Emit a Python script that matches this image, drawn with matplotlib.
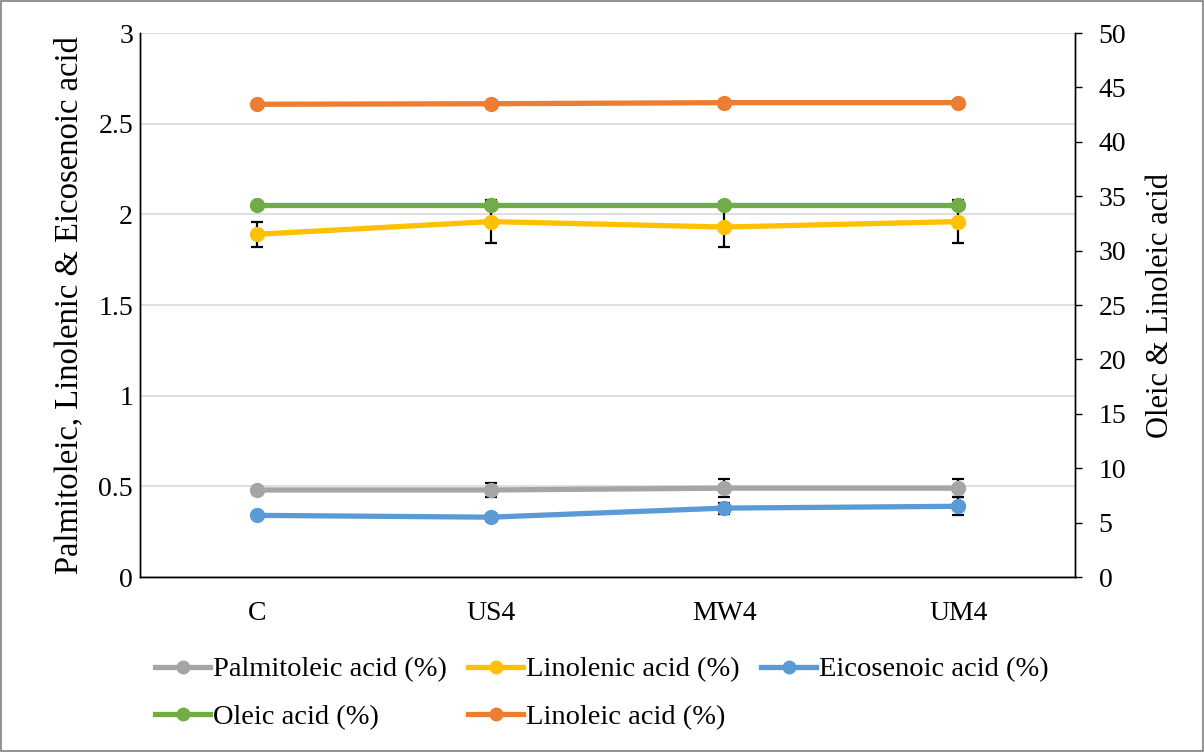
import matplotlib
matplotlib.use("Agg")
import matplotlib.pyplot as plt
from matplotlib.lines import Line2D
from matplotlib.patches import Rectangle

plt.rcParams['font.family'] = ['Liberation Serif', 'DejaVu Serif']

# treatments
groups = ["C", "US4", "MW4", "UM4"]

# primary axis series (%)
palmitoleic = [0.48, 0.48, 0.49, 0.49]
palmitoleic_err = [0.0, 0.04, 0.05, 0.05]
linolenic = [1.89, 1.96, 1.93, 1.96]
linolenic_err = [0.07, 0.12, 0.11, 0.12]
eicosenoic = [0.34, 0.33, 0.38, 0.39]
eicosenoic_err = [0.0, 0.02, 0.03, 0.05]

# secondary axis series (%)
oleic = [34.2, 34.2, 34.2, 34.2]
oleic_err = [0.0, 0.3, 0.3, 0.3]
linoleic = [43.45, 43.5, 43.6, 43.6]
linoleic_err = [0.0, 0.0, 0.0, 0.0]

left_ticks = [0, 0.5, 1, 1.5, 2, 2.5, 3]
right_ticks = list(range(0, 55, 5))

fig = plt.figure(figsize=(12.04, 7.52), dpi=100)
ax = fig.add_axes([0.1163, 0.2327, 0.7766, 0.7234])
ax2 = ax.twinx()

x = list(range(len(groups)))
style = dict(lw=3.8, marker='o', ms=10, elinewidth=1.6, ecolor='black',
             capsize=4.5, capthick=1.6)

series = [
    (ax, palmitoleic, palmitoleic_err, '#A5A5A5', 'Palmitoleic acid (%)'),
    (ax, linolenic, linolenic_err, '#FFC000', 'Linolenic acid (%)'),
    (ax, eicosenoic, eicosenoic_err, '#5B9BD5', 'Eicosenoic acid (%)'),
    (ax2, oleic, oleic_err, '#70AD47', 'Oleic acid (%)'),
    (ax2, linoleic, linoleic_err, '#ED7D31', 'Linoleic acid (%)'),
]
handles = {}
for a, vals, err, col, lab in series:
    a.errorbar(x, vals, yerr=err, color=col, **style)
    handles[lab] = Line2D([], [], color=col, lw=3.8, marker='o', ms=9)

ax.set_xlim(-0.5, 3.5)
ax.set_ylim(0, 3)
ax2.set_ylim(0, 50)
ax.set_xticks(x)
ax.set_xticklabels(groups)
ax.set_yticks(left_ticks)
ax.set_yticklabels([f"{t:g}" for t in left_ticks])
ax2.set_yticks(right_ticks)

ax.grid(axis='y', color='#D9D9D9', lw=1.2)
ax.set_axisbelow(True)
for a in (ax, ax2):
    a.tick_params(length=0, labelsize=20, pad=5)
    a.spines['top'].set_visible(False)
    for s in ('left', 'right', 'bottom'):
        a.spines[s].set_color('black')
        a.spines[s].set_linewidth(1.0)
ax2.tick_params(axis='y', length=5, width=1.0, direction='out', pad=12)
ax.tick_params(axis='x', pad=17)

ax.set_ylabel('Palmitoleic, Linolenic & Eicosenoic acid', fontsize=23.5, labelpad=10)
ax2.set_ylabel('Oleic & Linoleic acid', fontsize=22, labelpad=14)

order = ['Palmitoleic acid (%)', 'Oleic acid (%)', 'Linolenic acid (%)',
         'Linoleic acid (%)', 'Eicosenoic acid (%)']
fig.legend([handles[k] for k in order], order, ncol=3, loc='upper left',
           bbox_to_anchor=(0.1196, 0.142), frameon=False, fontsize=20.5,
           handlelength=1.93, handletextpad=0.1, columnspacing=0.75,
           labelspacing=0.75, borderaxespad=0)

fig.add_artist(Rectangle((0.001, 0.001), 0.998, 0.998, transform=fig.transFigure,
                         fill=False, edgecolor='#7F7F7F', lw=1.2))

fig.savefig('out.png', dpi=100)
